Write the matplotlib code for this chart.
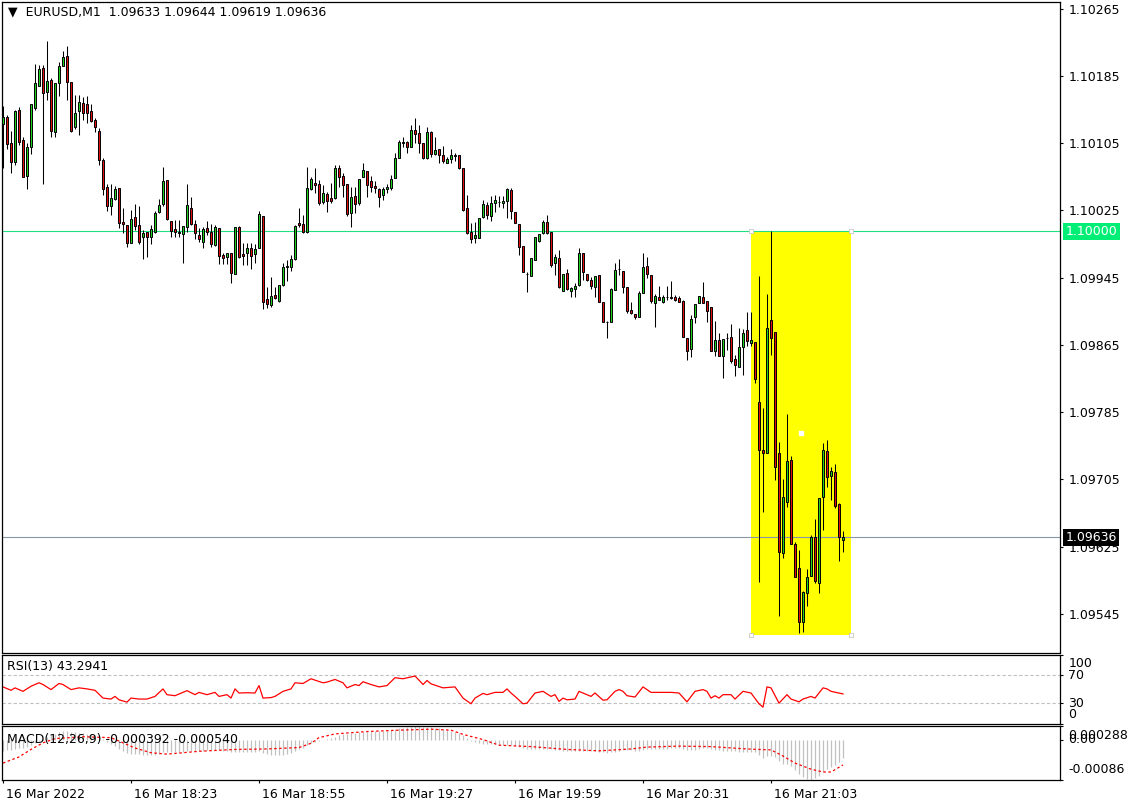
import numpy as np
import matplotlib.pyplot as plt
from matplotlib.patches import Rectangle
from matplotlib.transforms import ScaledTranslation

# ---- data (EURUSD M1, 17:51 .. 21:21) ----
symbol = "EURUSD,M1"

opens = [
    1.10128, 1.10136, 1.10105, 1.10083, 1.10145, 1.10109, 1.10066, 1.10101, 1.10147, 1.10173,
    1.10194, 1.10166, 1.10180, 1.10118, 1.10177, 1.10197, 1.10209, 1.10178, 1.10124, 1.10143,
    1.10153, 1.10152, 1.10143, 1.10133, 1.10120, 1.10085, 1.10053, 1.10030, 1.10039, 1.10052,
    1.10011, 1.10008, 1.09986, 1.10017, 1.10008, 1.09993, 1.09999, 1.09993, 1.09999, 1.10023,
    1.10033, 1.10061, 1.10012, 1.10003, 1.09999, 1.09997, 1.10005, 1.10028, 1.10009, 1.09996,
    1.09987, 1.10004, 1.09999, 1.09984, 1.10004, 1.09972, 1.09970, 1.09974, 1.09949, 1.10005,
    1.09973, 1.09974, 1.09980, 1.09973, 1.09980, 1.10018, 1.09920, 1.09913, 1.09924, 1.09917,
    1.09936, 1.09958, 1.09958, 1.09967, 1.10010, 1.10009, 1.09999, 1.10051, 1.10058, 1.10057,
    1.10035, 1.10045, 1.10040, 1.10040, 1.10076, 1.10066, 1.10057, 1.10022, 1.10042, 1.10034,
    1.10065, 1.10072, 1.10060, 1.10054, 1.10051, 1.10043, 1.10051, 1.10052, 1.10064, 1.10087,
    1.10105, 1.10106, 1.10101, 1.10121, 1.10117, 1.10105, 1.10087, 1.10118, 1.10092, 1.10098,
    1.10091, 1.10081, 1.10086, 1.10091, 1.10091, 1.10076, 1.10028, 1.09999, 1.09992, 1.09992,
    1.10017, 1.10032, 1.10018, 1.10034, 1.10035, 1.10034, 1.10036, 1.10049, 1.10023, 1.10009,
    1.09983, 1.09949, 1.09947, 1.09966, 1.09989, 1.09998, 1.10011, 1.09999, 1.09963, 1.09968,
    1.09929, 1.09951, 1.09929, 1.09932, 1.09936, 1.09974, 1.09949, 1.09942, 1.09934, 1.09948,
    1.09916, 1.09892, 1.09892, 1.09930, 1.09955, 1.09953, 1.09934, 1.09907, 1.09902, 1.09898,
    1.09927, 1.09959, 1.09948, 1.09915, 1.09922, 1.09916, 1.09922, 1.09922, 1.09922, 1.09921,
    1.09917, 1.09873, 1.09860, 1.09898, 1.09915, 1.09922, 1.09917, 1.09910, 1.09858, 1.09871,
    1.09852, 1.09873, 1.09875, 1.09848, 1.09839, 1.09863, 1.09883, 1.09867, 1.09869, 1.09797,
    1.09740, 1.09736, 1.09895, 1.09880, 1.09736, 1.09618, 1.09678, 1.09728, 1.09628, 1.09600,
    1.09536, 1.09570, 1.09590, 1.09637, 1.09582, 1.09684, 1.09739, 1.09709, 1.09714, 1.09676,
    1.09633,
]
highs = [
    1.10149, 1.10139, 1.10120, 1.10145, 1.10148, 1.10112, 1.10105, 1.10152, 1.10199, 1.10198,
    1.10198, 1.10227, 1.10183, 1.10177, 1.10202, 1.10215, 1.10221, 1.10178, 1.10162, 1.10162,
    1.10160, 1.10161, 1.10152, 1.10135, 1.10123, 1.10087, 1.10057, 1.10057, 1.10054, 1.10052,
    1.10028, 1.10008, 1.10026, 1.10033, 1.10030, 1.10002, 1.09999, 1.10008, 1.10024, 1.10039,
    1.10077, 1.10061, 1.10012, 1.10014, 1.10014, 1.10007, 1.10057, 1.10041, 1.10014, 1.10004,
    1.10005, 1.10012, 1.10009, 1.10008, 1.10004, 1.09974, 1.09974, 1.09974, 1.10005, 1.10007,
    1.09986, 1.09986, 1.09986, 1.09985, 1.10024, 1.10018, 1.09934, 1.09946, 1.09934, 1.09936,
    1.09963, 1.09966, 1.09972, 1.10008, 1.10028, 1.10020, 1.10077, 1.10065, 1.10076, 1.10061,
    1.10055, 1.10047, 1.10058, 1.10079, 1.10079, 1.10070, 1.10057, 1.10053, 1.10053, 1.10062,
    1.10081, 1.10072, 1.10066, 1.10060, 1.10052, 1.10053, 1.10057, 1.10067, 1.10093, 1.10109,
    1.10112, 1.10108, 1.10127, 1.10135, 1.10127, 1.10105, 1.10124, 1.10120, 1.10112, 1.10098,
    1.10102, 1.10089, 1.10098, 1.10093, 1.10091, 1.10076, 1.10043, 1.10010, 1.10011, 1.10016,
    1.10037, 1.10035, 1.10042, 1.10043, 1.10042, 1.10042, 1.10052, 1.10052, 1.10023, 1.10009,
    1.09983, 1.09952, 1.09968, 1.09993, 1.09997, 1.10014, 1.10020, 1.09999, 1.09973, 1.09978,
    1.09949, 1.09955, 1.09934, 1.09939, 1.09980, 1.09974, 1.09949, 1.09946, 1.09947, 1.09948,
    1.09916, 1.09894, 1.09933, 1.09963, 1.09967, 1.09953, 1.09934, 1.09916, 1.09902, 1.09929,
    1.09974, 1.09970, 1.09948, 1.09926, 1.09935, 1.09924, 1.09935, 1.09941, 1.09924, 1.09923,
    1.09918, 1.09873, 1.09901, 1.09914, 1.09923, 1.09940, 1.09917, 1.09910, 1.09894, 1.09879,
    1.09872, 1.09879, 1.09890, 1.09853, 1.09885, 1.09884, 1.09904, 1.09904, 1.09869, 1.09947,
    1.09790, 1.09926, 1.10000, 1.09880, 1.09750, 1.09706, 1.09783, 1.09733, 1.09631, 1.09621,
    1.09572, 1.09599, 1.09639, 1.09658, 1.09683, 1.09748, 1.09752, 1.09720, 1.09723, 1.09677,
    1.09644,
]
lows = [
    1.10076, 1.10098, 1.10070, 1.10079, 1.10103, 1.10065, 1.10051, 1.10092, 1.10145, 1.10173,
    1.10057, 1.10156, 1.10112, 1.10112, 1.10161, 1.10197, 1.10156, 1.10118, 1.10122, 1.10115,
    1.10133, 1.10129, 1.10130, 1.10118, 1.10079, 1.10043, 1.10024, 1.10020, 1.10037, 1.10004,
    1.09998, 1.09982, 1.09986, 1.10002, 1.09985, 1.09967, 1.09970, 1.09985, 1.09998, 1.10022,
    1.10030, 1.10014, 1.09993, 1.09993, 1.09993, 1.09963, 1.09999, 1.10008, 1.09991, 1.09987,
    1.09980, 1.09996, 1.09982, 1.09983, 1.09961, 1.09961, 1.09961, 1.09939, 1.09949, 1.09968,
    1.09960, 1.09960, 1.09955, 1.09963, 1.09980, 1.09908, 1.09909, 1.09910, 1.09920, 1.09916,
    1.09935, 1.09941, 1.09953, 1.09966, 1.10005, 1.09998, 1.09998, 1.10049, 1.10046, 1.10032,
    1.10033, 1.10023, 1.10034, 1.10039, 1.10053, 1.10041, 1.10018, 1.10005, 1.10022, 1.10032,
    1.10065, 1.10041, 1.10047, 1.10046, 1.10029, 1.10037, 1.10046, 1.10049, 1.10064, 1.10087,
    1.10101, 1.10093, 1.10101, 1.10105, 1.10093, 1.10086, 1.10086, 1.10089, 1.10091, 1.10081,
    1.10081, 1.10081, 1.10081, 1.10084, 1.10074, 1.10024, 1.09997, 1.09986, 1.09986, 1.09992,
    1.10016, 1.10015, 1.10012, 1.10023, 1.10029, 1.10028, 1.10016, 1.10015, 1.10010, 1.09972,
    1.09952, 1.09928, 1.09947, 1.09966, 1.09987, 1.09997, 1.09997, 1.09958, 1.09948, 1.09933,
    1.09929, 1.09930, 1.09922, 1.09922, 1.09935, 1.09942, 1.09941, 1.09932, 1.09922, 1.09916,
    1.09892, 1.09873, 1.09892, 1.09930, 1.09948, 1.09927, 1.09903, 1.09902, 1.09896, 1.09898,
    1.09927, 1.09945, 1.09915, 1.09886, 1.09918, 1.09915, 1.09918, 1.09920, 1.09917, 1.09916,
    1.09875, 1.09847, 1.09851, 1.09891, 1.09915, 1.09915, 1.09892, 1.09858, 1.09852, 1.09852,
    1.09826, 1.09859, 1.09844, 1.09828, 1.09839, 1.09829, 1.09864, 1.09864, 1.09820, 1.09583,
    1.09666, 1.09736, 1.09853, 1.09704, 1.09543, 1.09612, 1.09672, 1.09628, 1.09589, 1.09522,
    1.09524, 1.09555, 1.09590, 1.09582, 1.09570, 1.09645, 1.09696, 1.09681, 1.09671, 1.09608,
    1.09619,
]
closes = [
    1.10136, 1.10104, 1.10083, 1.10143, 1.10106, 1.10065, 1.10101, 1.10152, 1.10177, 1.10193,
    1.10165, 1.10179, 1.10120, 1.10177, 1.10197, 1.10208, 1.10178, 1.10120, 1.10141, 1.10154,
    1.10141, 1.10141, 1.10131, 1.10124, 1.10085, 1.10051, 1.10030, 1.10040, 1.10051, 1.10010,
    1.10009, 1.09986, 1.10015, 1.10007, 1.09987, 1.09998, 1.09993, 1.10003, 1.10022, 1.10032,
    1.10060, 1.10015, 1.10001, 1.09999, 1.09998, 1.10007, 1.10032, 1.10009, 1.09998, 1.09991,
    1.10003, 1.09999, 1.09985, 1.10005, 1.09971, 1.09968, 1.09974, 1.09951, 1.10005, 1.09970,
    1.09971, 1.09980, 1.09971, 1.09979, 1.10021, 1.09916, 1.09914, 1.09923, 1.09921, 1.09936,
    1.09958, 1.09959, 1.09967, 1.10007, 1.10008, 1.09999, 1.10052, 1.10062, 1.10055, 1.10034,
    1.10046, 1.10036, 1.10036, 1.10076, 1.10065, 1.10055, 1.10021, 1.10041, 1.10033, 1.10062,
    1.10073, 1.10055, 1.10053, 1.10052, 1.10041, 1.10051, 1.10053, 1.10062, 1.10087, 1.10106,
    1.10106, 1.10101, 1.10121, 1.10116, 1.10105, 1.10087, 1.10118, 1.10092, 1.10097, 1.10091,
    1.10084, 1.10086, 1.10091, 1.10090, 1.10076, 1.10026, 1.09998, 1.09991, 1.09996, 1.10016,
    1.10033, 1.10020, 1.10034, 1.10037, 1.10035, 1.10036, 1.10051, 1.10024, 1.10010, 1.09982,
    1.09952, 1.09949, 1.09968, 1.09993, 1.09997, 1.10011, 1.09998, 1.09960, 1.09970, 1.09934,
    1.09949, 1.09932, 1.09933, 1.09935, 1.09974, 1.09952, 1.09942, 1.09935, 1.09947, 1.09916,
    1.09892, 1.09892, 1.09932, 1.09954, 1.09955, 1.09934, 1.09905, 1.09903, 1.09898, 1.09927,
    1.09958, 1.09949, 1.09917, 1.09923, 1.09918, 1.09922, 1.09922, 1.09921, 1.09918, 1.09916,
    1.09875, 1.09858, 1.09896, 1.09914, 1.09923, 1.09915, 1.09905, 1.09858, 1.09871, 1.09852,
    1.09872, 1.09873, 1.09846, 1.09841, 1.09863, 1.09879, 1.09870, 1.09871, 1.09825, 1.09740,
    1.09736, 1.09885, 1.09873, 1.09720, 1.09619, 1.09684, 1.09727, 1.09628, 1.09589, 1.09536,
    1.09571, 1.09589, 1.09637, 1.09584, 1.09683, 1.09740, 1.09708, 1.09715, 1.09673, 1.09637,
    1.09636,
]

time_labels = ["16 Mar 2022", "16 Mar 18:23", "16 Mar 18:55", "16 Mar 19:27",
               "16 Mar 19:59", "16 Mar 20:31", "16 Mar 21:03"]
time_label_bars = [0, 32, 64, 96, 128, 160, 192]

price_ticks = [1.10265, 1.10185, 1.10105, 1.10025, 1.09945,
               1.09865, 1.09785, 1.09705, 1.09625, 1.09545]
level_price = 1.10000
bid_price = 1.09636

# yellow rectangle object (bars / prices)
box_bar_from, box_bar_to = 187, 212
box_price_low, box_price_high = 1.09520, 1.10000

# RSI(13) line, sampled at the bars where it turns
rsi_period = 13
rsi_bars = [0, 2, 3, 5, 7, 9, 10, 12, 14, 15, 17, 19, 21, 23, 25, 27, 28, 29, 31, 32,
            34, 36, 38, 40, 41, 43, 46, 48, 49, 51, 53, 54, 56, 57, 58, 59, 61, 63, 64, 65,
            67, 68, 70, 72, 73, 75, 77, 78, 80, 81, 83, 85, 86, 88, 89, 90, 92, 94, 96, 98,
            100, 103, 104, 105, 106, 107, 110, 113, 115, 117, 118, 120, 121, 123, 125, 126,
            127, 128, 130, 131, 133, 135, 137, 138, 139, 140, 141, 143, 144, 146, 147, 148,
            150, 151, 153, 154, 155, 156, 158, 160, 162, 164, 167, 169, 171, 173, 175, 176,
            177, 178, 179, 180, 182, 183, 185, 187, 189, 190, 191, 192, 194, 196, 197, 199,
            200, 202, 203, 205, 206, 207, 210]
rsi_vals = [53.4, 48.5, 52.0, 47.0, 54.3, 59.3, 56.8, 49.5, 58.3, 56.8, 49.5, 52.0, 50.5,
            48.5, 37.3, 35.9, 39.7, 34.8, 31.5, 37.3, 35.9, 35.9, 39.7, 50.5, 42.2, 40.7,
            48.0, 42.2, 45.5, 42.2, 45.5, 39.7, 42.2, 37.3, 50.5, 44.6, 45.0, 44.6, 55.3,
            37.3, 38.0, 39.7, 47.0, 50.5, 59.3, 58.3, 65.1, 63.1, 59.3, 60.3, 64.1, 59.3,
            52.0, 56.8, 55.3, 60.8, 56.8, 53.4, 55.3, 66.6, 65.1, 69.0, 63.1, 56.8, 62.6,
            57.8, 52.0, 53.4, 37.3, 29.1, 37.3, 44.0, 42.2, 45.5, 45.5, 50.5, 44.6, 39.7,
            29.1, 30.0, 44.6, 47.0, 39.7, 42.2, 32.5, 37.3, 34.8, 35.9, 47.0, 42.2, 39.7,
            44.6, 34.3, 34.8, 47.0, 49.5, 47.0, 40.7, 38.8, 53.4, 45.5, 45.5, 45.5, 44.6,
            31.9, 47.0, 49.5, 47.0, 37.3, 40.7, 37.3, 42.2, 42.2, 35.9, 47.0, 44.6, 29.1,
            24.2, 53.4, 52.0, 30.0, 42.2, 35.9, 31.9, 35.9, 39.7, 37.3, 52.0, 50.5, 47.0,
            43.2941]
rsi_levels = [70, 30]

# MACD(12,26,9): main value for every bar (histogram) and the signal line
macd_main = [
    -0.00024, -0.00023, -0.00022, -0.00020, -0.00018, -0.00017, -0.00015, -0.00012, -0.00008,
    -0.00003, 0.00002, 0.00006, 0.00009, 0.00012, 0.00015, 0.00018, 0.00019,
    0.00017, 0.00015, 0.00014, 0.00013, 0.00012, 0.00011, 0.00009, 0.00006, 0.00001,
    -0.00005, -0.00010, -0.00014, -0.00020, -0.00024, -0.00028, -0.00030, -0.00030, -0.00031,
    -0.00032, -0.00033, -0.00033, -0.00032, -0.00030, -0.00027,
    -0.00027, -0.00027, -0.00027, -0.00026, -0.00026, -0.00024, -0.00024, -0.00024, -0.00024,
    -0.00024, -0.00023, -0.00023, -0.00023, -0.00023, -0.00024, -0.00025, -0.00027, -0.00026,
    -0.00026, -0.00026, -0.00026, -0.00026, -0.00026, -0.00024,
    -0.00028, -0.00031, -0.00033, -0.00033, -0.00033, -0.00032, -0.00030, -0.00028,
    -0.00024, -0.00020, -0.00017, -0.00012, -0.00008, -0.00005, -0.00003, -0.00001,
    0.00001, 0.00003, 0.00006, 0.00009, 0.00011, 0.00012, 0.00013, 0.00014, 0.00015, 0.00016,
    0.00017, 0.00018, 0.00018, 0.00019, 0.00019, 0.00020, 0.00021, 0.00022, 0.00024, 0.00025,
    0.00026, 0.00027, 0.000288, 0.00028, 0.00027, 0.00027,
    0.00026, 0.00025, 0.00024, 0.00022, 0.00020, 0.00018, 0.00016, 0.00013, 0.00009,
    0.00003, -0.00003, -0.00006, -0.00008, -0.00009, -0.00010, -0.00010, -0.00010, -0.00011,
    -0.00011, -0.00011, -0.00012, -0.00013, -0.00015, -0.00018,
    -0.00020, -0.00021, -0.00021, -0.00021, -0.00021, -0.00020, -0.00021, -0.00022, -0.00023,
    -0.00024, -0.00025, -0.00025, -0.00025, -0.00024, -0.00024, -0.00024, -0.00024, -0.00025,
    -0.00026, -0.00027, -0.00028, -0.00027, -0.00026, -0.00024, -0.00022, -0.00022, -0.00023,
    -0.00024, -0.00024, -0.00022,
    -0.00020, -0.00020, -0.00020, -0.00020, -0.00020, -0.00020, -0.00019, -0.00019, -0.00019,
    -0.00020, -0.00022, -0.00023, -0.00022, -0.00021, -0.00019, -0.00019, -0.00020, -0.00022,
    -0.00023, -0.00024, -0.00024, -0.00024, -0.00025, -0.00026, -0.00026, -0.00026, -0.00026,
    -0.00027,
    -0.00033, -0.00039, -0.00036, -0.00034, -0.00038, -0.00046, -0.00051, -0.00052, -0.00057,
    -0.00065, -0.00074, -0.00080, -0.00083, -0.00086, -0.00082, -0.00077, -0.00070, -0.00063,
    -0.00058, -0.00054, -0.00048, -0.000392,
]
signal_bars = [0, 4, 7, 10, 13, 20, 27, 33, 37, 41, 49, 58, 66, 74, 77, 79, 83, 91, 99,
               107, 112, 115, 120, 124, 132, 141, 149, 157, 161, 169, 177, 186, 192, 195,
               198, 202, 205, 207, 210]
signal_vals = [-0.00050, -0.00037, -0.00021, -0.00007, 0.00002, 0.00006, 0.00004, -0.00018,
               -0.00028, -0.00031, -0.00025, -0.00021, -0.00020, -0.00017, -0.00008, 0.00004,
               0.00012, 0.00017, 0.00020, 0.00022, 0.00020, 0.00011, 0.00000, -0.00012,
               -0.00015, -0.00021, -0.00024, -0.00020, -0.00016, -0.00014, -0.00015, -0.00020,
               -0.00022, -0.00035, -0.00050, -0.00063, -0.00069, -0.00069, -0.00054]
macd_top, macd_bottom = 0.000288, -0.00086

# ---- layout in screen pixels ----
W, H = 1132, 807
fig = plt.figure(figsize=(W / 100, H / 100), dpi=100)
fig.patch.set_facecolor("white")


def panel(x0, y0, x1, y1):
    return fig.add_axes([x0 / W, 1 - y1 / H, (x1 - x0) / W, (y1 - y0) / H])


ax = panel(2, 2, 1060, 652.5)
ax_rsi = panel(2, 654.5, 1060, 724)
ax_macd = panel(2, 726, 1060, 780)

n = len(closes)
bars = np.arange(n)
xlim = (-0.25, 264.25)
for a in (ax, ax_rsi, ax_macd):
    a.set_xlim(*xlim)
    a.set_facecolor("white")
    for s in a.spines.values():
        s.set_color("black")
        s.set_linewidth(0.9)
    a.tick_params(axis="x", bottom=False, labelbottom=False)

FONT = 9

# ---- main candle chart ----
o = np.array(opens)
c = np.array(closes)
up = c >= o
ax.set_ylim(1.094992, 1.102730)

ax.add_patch(Rectangle((box_bar_from, box_price_low), box_bar_to - box_bar_from,
                       box_price_high - box_price_low, facecolor="#ffff00",
                       edgecolor="none", zorder=1))
corners_x = [box_bar_from, box_bar_to, box_bar_from, box_bar_to]
corners_y = [box_price_high, box_price_high, box_price_low, box_price_low]
ax.scatter(corners_x, corners_y, marker="s", s=10, facecolor="white",
           edgecolor="#c8c8c8", linewidth=0.6, zorder=6)
ax.scatter([(box_bar_from + box_bar_to) / 2], [(box_price_low + box_price_high) / 2],
           marker="s", s=8, color="white", zorder=6)

ax.axhline(level_price, color="#20e080", lw=0.8, zorder=2)
ax.axhline(bid_price, color="#8a96a4", lw=0.8, zorder=2)

ax.vlines(bars, lows, highs, color="black", lw=0.75, zorder=3)
body_low = np.minimum(o, c)
body_h = np.maximum(np.abs(c - o), 0.000004)
ax.bar(bars, body_h, bottom=body_low, width=0.55,
       color=np.where(up, "#1ed21e", "#e01010"), edgecolor="black",
       linewidth=0.7, zorder=4)

ax.yaxis.tick_right()
ax.set_yticks(price_ticks)
ax.set_yticklabels([f"{p:.5f}" for p in price_ticks], fontsize=FONT)
ax.tick_params(axis="y", direction="out", length=2.5, width=0.8, pad=4)

ax.annotate(f"{level_price:.5f}", xy=(1, level_price), xycoords=("axes fraction", "data"),
            xytext=(4, 0), textcoords="offset points", va="center", ha="left",
            fontsize=FONT, color="white", zorder=10,
            bbox=dict(boxstyle="square,pad=0.18", fc="#00ee76", ec="none"),
            annotation_clip=False)
ax.annotate(f"{bid_price:.5f}", xy=(1, bid_price), xycoords=("axes fraction", "data"),
            xytext=(4, 0), textcoords="offset points", va="center", ha="left",
            fontsize=FONT, color="white", zorder=10,
            bbox=dict(boxstyle="square,pad=0.18", fc="black", ec="none"),
            annotation_clip=False)

ax.text(0.006, 0.9845, "\u25bc  " + f"{symbol}  {opens[-1]:.5f} {highs[-1]:.5f} "
        f"{lows[-1]:.5f} {closes[-1]:.5f}", transform=ax.transAxes, fontsize=FONT,
        va="center", ha="left")

# ---- RSI panel ----
ax_rsi.set_ylim(0, 100)
for lv in rsi_levels:
    ax_rsi.axhline(lv, color="#c0c0c0", lw=0.8, ls=(0, (3, 2)))
ax_rsi.plot(rsi_bars, rsi_vals, color="red", lw=0.9)
ax_rsi.set_yticks([100, 70, 30, 0])
ax_rsi.yaxis.tick_right()
ax_rsi.tick_params(axis="y", direction="out", length=2.5, width=0.8, labelright=False)
for val, dy, va in [(100, -2, "top"), (70, 0, "center"), (30, 0, "center"), (0, 2, "bottom")]:
    ax_rsi.annotate(str(val), xy=(1, val), xycoords=("axes fraction", "data"),
                    xytext=(6, dy), textcoords="offset points", va=va, ha="left",
                    fontsize=FONT, annotation_clip=False)
ax_rsi.text(0.005, 0.83, f"RSI({rsi_period}) {rsi_vals[-1]:.4f}", transform=ax_rsi.transAxes,
            fontsize=FONT, va="center", ha="left")

# ---- MACD panel ----
ax_macd.set_ylim(macd_bottom, macd_top)
ax_macd.vlines(bars, 0, macd_main, color="#c0c0c0", lw=0.9)
ax_macd.plot(signal_bars, signal_vals, color="red", lw=0.9, ls=(0, (2, 2)))
ax_macd.set_yticks([macd_top, 0, macd_bottom])
ax_macd.yaxis.tick_right()
ax_macd.tick_params(axis="y", direction="out", length=2.5, width=0.8, labelright=False)
for txt, val, dy, va in [(f"{macd_top:.6f}", macd_top, -2, "top"), ("0.00", 0, 0, "center"),
                         (f"{macd_bottom:.5f}", macd_bottom, 3, "bottom")]:
    ax_macd.annotate(txt, xy=(1, val), xycoords=("axes fraction", "data"),
                     xytext=(6, dy), textcoords="offset points", va=va, ha="left",
                     fontsize=FONT, annotation_clip=False)
ax_macd.text(0.005, 0.75, f"MACD(12,26,9) {macd_main[-1]:.6f} {signal_vals[-1]:.6f}",
             transform=ax_macd.transAxes, fontsize=FONT, va="center", ha="left")

ax_macd.set_xticks(time_label_bars)
ax_macd.set_xticklabels(time_labels, fontsize=FONT, ha="left")
ax_macd.tick_params(axis="x", bottom=True, labelbottom=True, direction="out",
                    length=2.5, width=0.8, pad=3)
shift = ScaledTranslation(0.03, 0, fig.dpi_scale_trans)
for lbl in ax_macd.get_xticklabels():
    lbl.set_transform(lbl.get_transform() + shift)

fig.savefig("out.png", dpi=100)
